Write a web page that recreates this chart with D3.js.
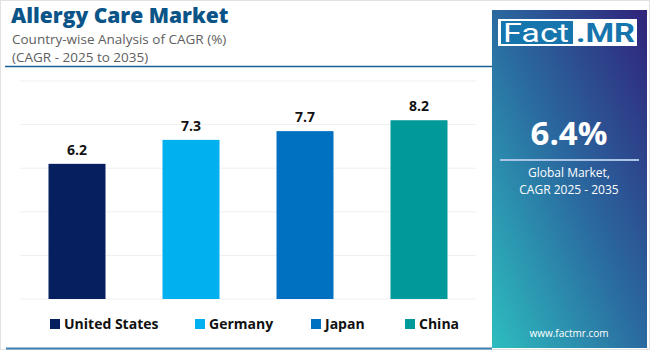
<!DOCTYPE html>
<html>
<head>
<meta charset="utf-8">
<script src="https://cdn.jsdelivr.net/npm/d3@7"></script>
<style>
  body { margin: 0; background: #fff; }
  svg { display: block; font-family: "Open Sans", sans-serif; }
</style>
</head>
<body>
<svg id="chart" width="650" height="350"></svg>
<script>
let countries = ["United States", "Germany", "Japan", "China"];
let cagr = [6.2, 7.3, 7.7, 8.2];
let colors = ["#061f5e", "#00b0ef", "#0070c0", "#009a9a"];
let yTicks = [0, 2, 4, 6, 8, 10];

let svg = d3.select("#chart");

// outer frame
svg.append("rect")
   .attr("x", 0.5).attr("y", 0.5)
   .attr("width", 649).attr("height", 349)
   .attr("fill", "#fff")
   .attr("stroke", "#e2e2e2");

// title
svg.append("text")
   .attr("x", 11).attr("y", 23)
   .attr("font-size", 21).attr("font-weight", 800)
   .attr("fill", "#0b5488")
   .text("Allergy Care Market");

svg.append("text")
   .attr("x", 12).attr("y", 43.5)
   .attr("font-size", 13.5).attr("fill", "#606060")
   .text("Country-wise Analysis of CAGR (%)");

svg.append("text")
   .attr("x", 12).attr("y", 62)
   .attr("font-size", 13.5).attr("fill", "#606060")
   .text("(CAGR - 2025 to 2035)");

svg.append("line")
   .attr("x1", 5).attr("x2", 492)
   .attr("y1", 66.5).attr("y2", 66.5)
   .attr("stroke", "#1a5f91").attr("stroke-width", 1.5);

svg.append("line")
   .attr("x1", 6).attr("x2", 492)
   .attr("y1", 348.5).attr("y2", 348.5)
   .attr("stroke", "#3f7fb0").attr("stroke-width", 2);

// scales
let xScale = d3.scaleBand()
               .domain(countries)
               .range([20, 476])
               .paddingInner(0.5)
               .paddingOuter(0.25);

let yScale = d3.scaleLinear()
               .domain([0, 10])
               .range([299, 81]);

// gridlines
svg.append("g")
   .selectAll("line")
   .data(yTicks)
   .enter()
   .append("line")
   .attr("x1", 20).attr("x2", 476)
   .attr("y1", d => yScale(d)).attr("y2", d => yScale(d))
   .attr("stroke", "#efefef");

// bars
svg.append("g")
   .selectAll("rect")
   .data(countries)
   .enter()
   .append("rect")
   .attr("x", d => xScale(d))
   .attr("y", (d, i) => yScale(cagr[i]))
   .attr("width", xScale.bandwidth())
   .attr("height", (d, i) => yScale(0) - yScale(cagr[i]))
   .attr("fill", (d, i) => colors[i]);

// value labels
svg.append("g")
   .selectAll("text")
   .data(countries)
   .enter()
   .append("text")
   .attr("x", d => xScale(d) + xScale.bandwidth() / 2)
   .attr("y", (d, i) => yScale(cagr[i]) - 9)
   .attr("text-anchor", "middle")
   .attr("font-size", 14).attr("font-weight", 700)
   .attr("fill", "#111")
   .text((d, i) => cagr[i].toFixed(1));

// legend
let legendX = [50, 195, 311, 405];
let legend = svg.append("g")
                .selectAll("g")
                .data(countries)
                .enter()
                .append("g")
                .attr("transform", (d, i) => `translate(${legendX[i]}, 319)`);

legend.append("rect")
      .attr("width", 10).attr("height", 10)
      .attr("fill", (d, i) => colors[i]);

legend.append("text")
      .attr("x", 14).attr("y", 10)
      .attr("font-size", 14).attr("font-weight", 700)
      .attr("fill", "#111")
      .text(d => d);

// right panel
let defs = svg.append("defs");
let grad = defs.append("linearGradient")
               .attr("id", "panelGrad")
               .attr("x1", "0").attr("y1", "1")
               .attr("x2", "1").attr("y2", "0");
grad.append("stop").attr("offset", "0%").attr("stop-color", "#2dbdbf");
grad.append("stop").attr("offset", "50%").attr("stop-color", "#2a6aa0");
grad.append("stop").attr("offset", "100%").attr("stop-color", "#30237a");

svg.append("rect")
   .attr("x", 492).attr("y", 10)
   .attr("width", 155).attr("height", 338)
   .attr("fill", "url(#panelGrad)");

// logo
svg.append("rect")
   .attr("x", 498).attr("y", 19)
   .attr("width", 139).attr("height", 27)
   .attr("fill", "#fff");

svg.append("rect")
   .attr("x", 501).attr("y", 21)
   .attr("width", 72).attr("height", 23)
   .attr("fill", "#1575ac");

svg.append("text")
   .attr("x", 503).attr("y", 42)
   .attr("font-size", 26).attr("fill", "#fff")
   .attr("font-family", "Roboto, sans-serif")
   .attr("textLength", 66).attr("lengthAdjust", "spacingAndGlyphs")
   .text("Fact");

svg.append("text")
   .attr("x", 576).attr("y", 42)
   .attr("font-size", 26).attr("font-weight", 700)
   .attr("fill", "#1575ac")
   .attr("font-family", "Roboto, sans-serif")
   .attr("textLength", 59).attr("lengthAdjust", "spacingAndGlyphs")
   .text(".MR");

svg.append("text")
   .attr("x", 569).attr("y", 145)
   .attr("text-anchor", "middle")
   .attr("font-size", 33).attr("font-weight", 700)
   .attr("fill", "#fff")
   .text("6.4%");

svg.append("line")
   .attr("x1", 500).attr("x2", 639)
   .attr("y1", 160).attr("y2", 160)
   .attr("stroke", "#a9c4e4").attr("stroke-width", 2);

svg.append("text")
   .attr("x", 569).attr("y", 177)
   .attr("text-anchor", "middle")
   .attr("font-size", 12).attr("fill", "#fff")
   .text("Global Market,");

svg.append("text")
   .attr("x", 569).attr("y", 194)
   .attr("text-anchor", "middle")
   .attr("font-size", 12).attr("fill", "#fff")
   .text("CAGR 2025 - 2035");

svg.append("text")
   .attr("x", 569).attr("y", 337)
   .attr("text-anchor", "middle")
   .attr("font-size", 10).attr("fill", "#fff")
   .text("www.factmr.com");
</script>
</body>
</html>
